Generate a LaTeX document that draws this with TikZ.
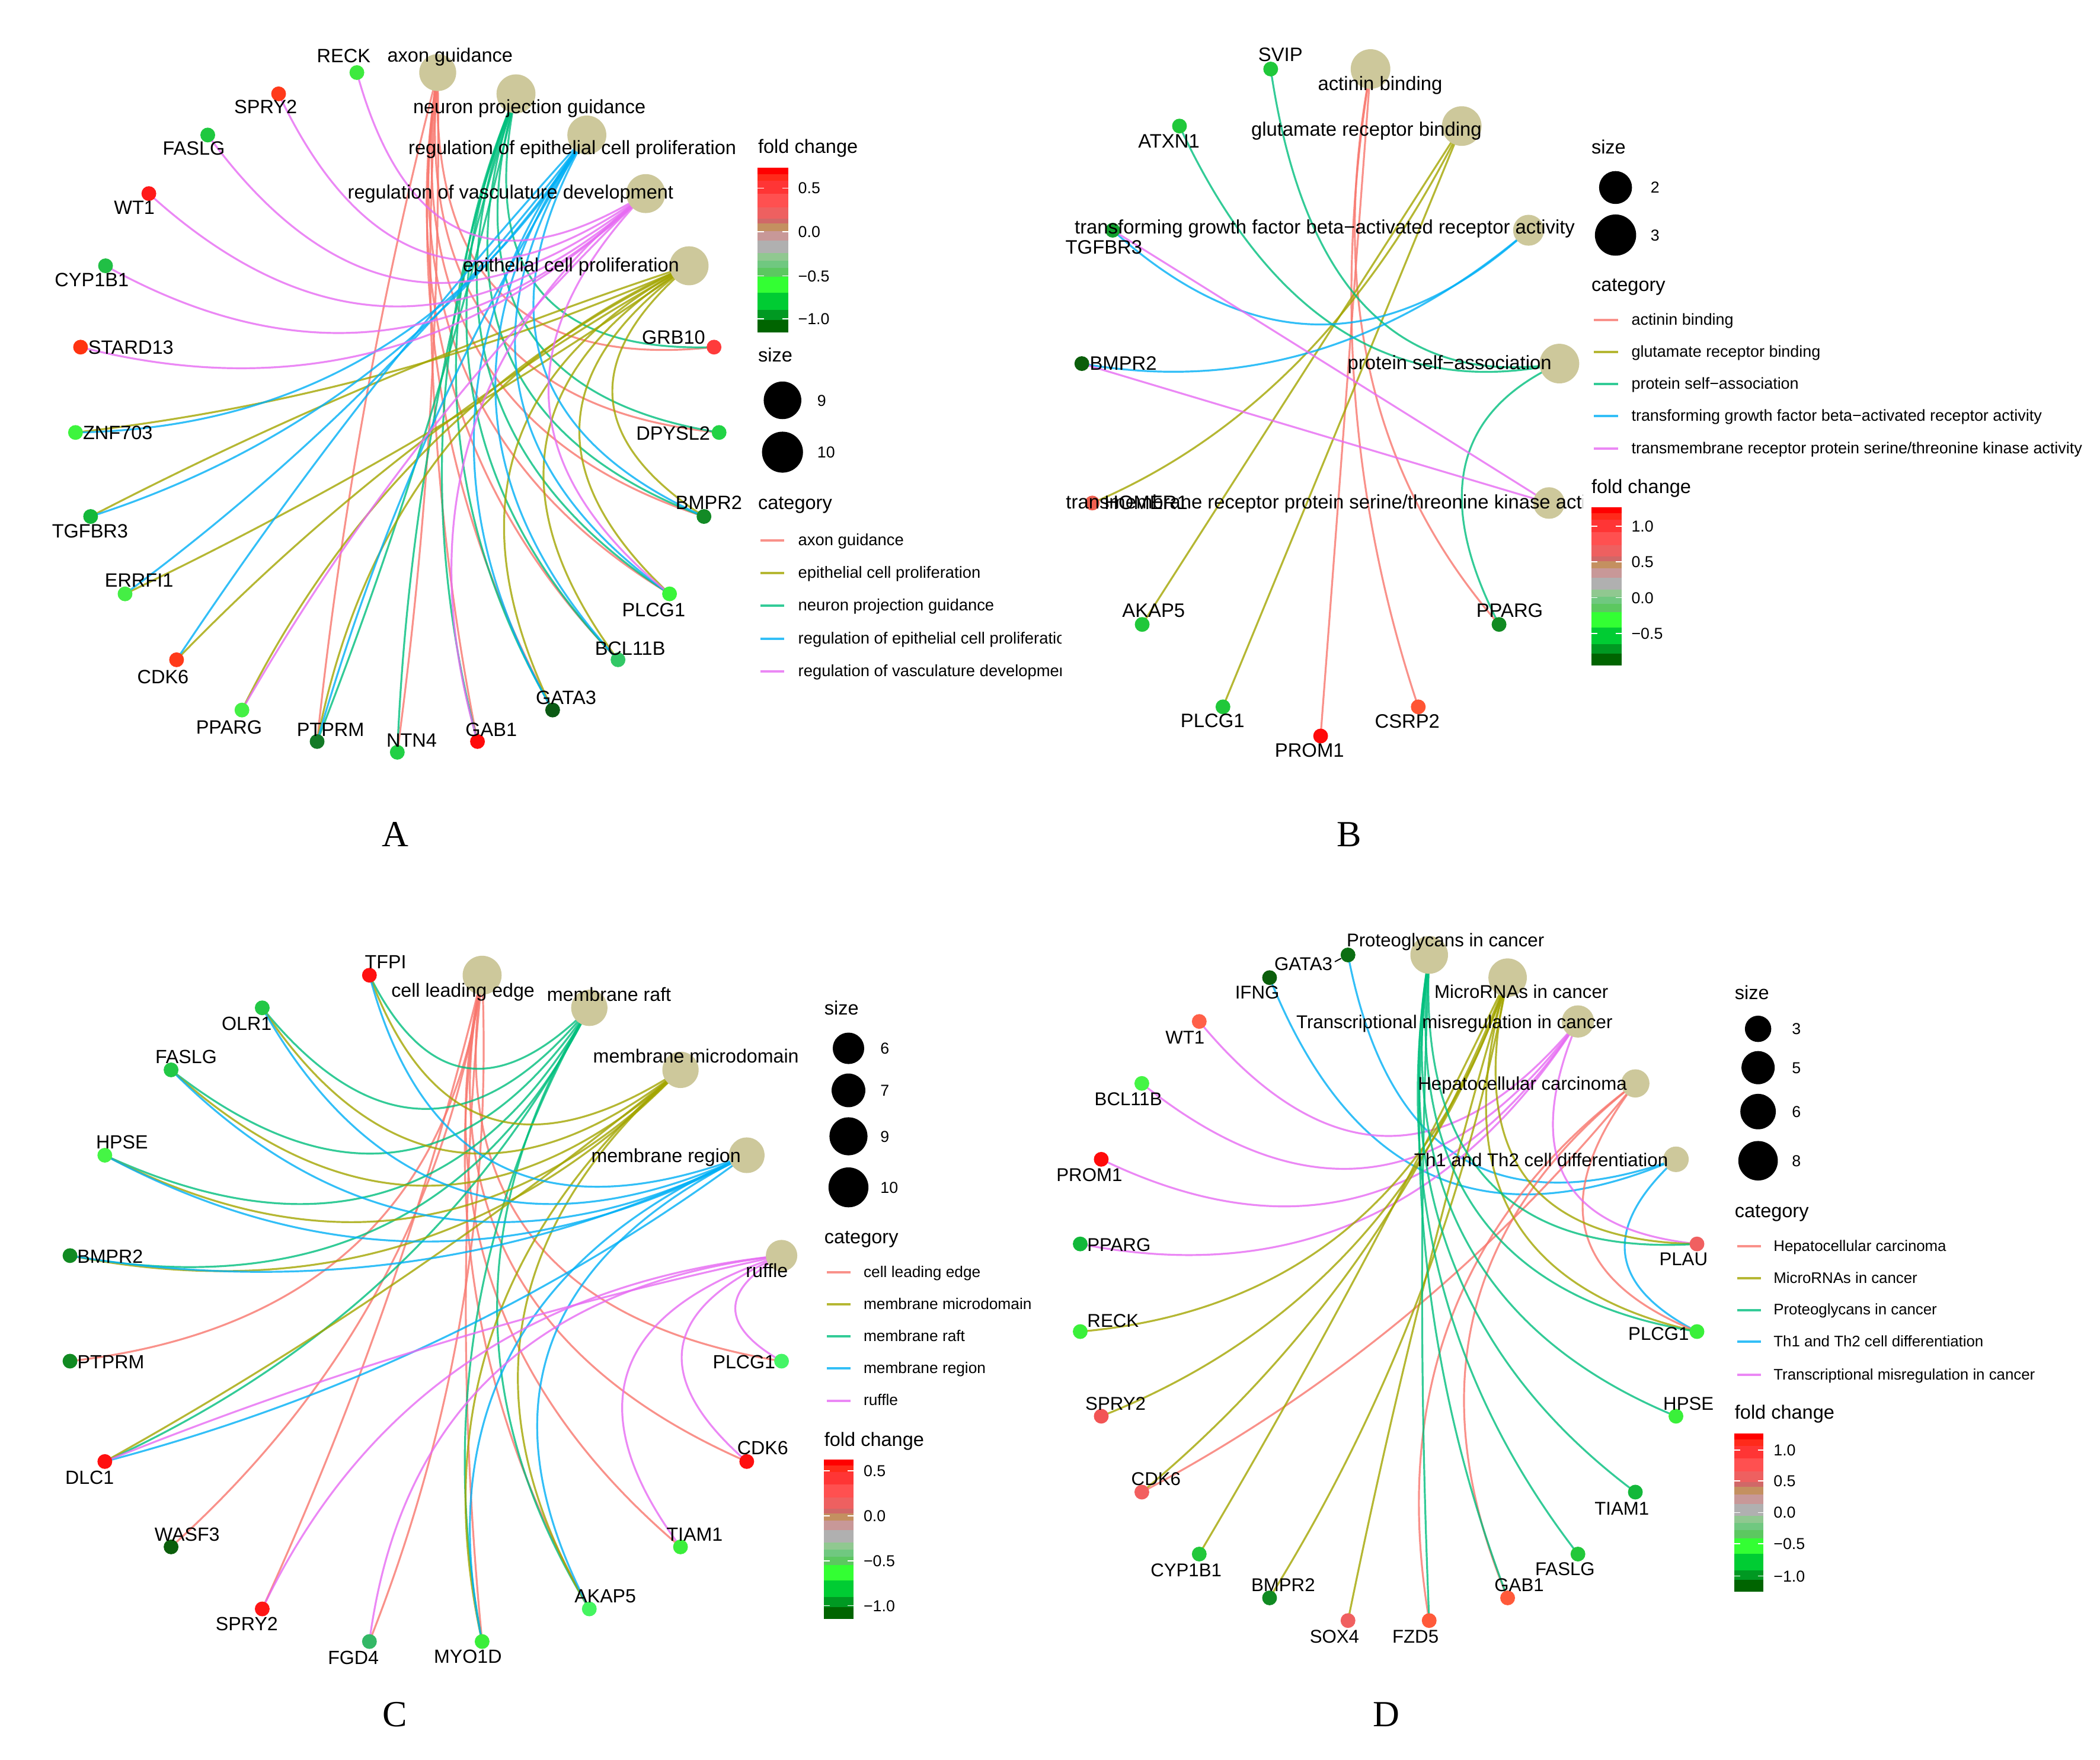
\documentclass[tikz,border=0pt]{standalone}
\usepackage{fontspec}
\setmainfont{Liberation Sans}
\newfontfamily\serifA{Liberation Serif}
\usetikzlibrary{calc}
\pgfdeclarelayer{bg}
\pgfdeclarelayer{fg}
\pgfsetlayers{bg,main,fg}
\definecolor{cRed}{HTML}{F8766D}
\definecolor{cOli}{HTML}{A3A500}
\definecolor{cTea}{HTML}{00BF7D}
\definecolor{cBlu}{HTML}{00B0F6}
\definecolor{cMag}{HTML}{E76BF3}
\definecolor{catfill}{RGB}{205,200,155}
% colour bar bands
\definecolor{cb01}{HTML}{FF0000}
\definecolor{cb02}{HTML}{FF2A1A}
\definecolor{cb03}{HTML}{FF3535}
\definecolor{cb04}{HTML}{FF5050}
\definecolor{cb05}{HTML}{EE6060}
\definecolor{cb06}{HTML}{D06868}
\definecolor{cb07}{HTML}{C49060}
\definecolor{cb08}{HTML}{C89898}
\definecolor{cb09}{HTML}{B0B0B0}
\definecolor{cb10}{HTML}{90C890}
\definecolor{cb11}{HTML}{70C880}
\definecolor{cb12}{HTML}{5CC860}
\definecolor{cb13}{HTML}{33FF33}
\definecolor{cb14}{HTML}{00CC33}
\definecolor{cb15}{HTML}{009922}
\definecolor{cb16}{HTML}{006400}
\def\gfs{10.2}
\def\lfs{8.4}
\tikzset{
  gdot/.style={circle, inner sep=0pt, minimum size=2.75mm, draw=none},
  catdot/.style={circle, inner sep=0pt, fill=catfill, draw=none},
  arcline/.style={line width=1pt, draw opacity=0.8},
  glab/.style={font=\fontsize{\gfs}{12}\selectfont, inner sep=0pt, anchor=base, yshift=-1.29mm},
  clab/.style={font=\fontsize{\gfs}{12}\selectfont, inner sep=0pt, anchor=base, yshift=-1.15mm},
  ltitle/.style={font=\fontsize{10.2}{12}\selectfont, inner sep=0pt, anchor=base west, yshift=-1.1mm},
  litem/.style={font=\fontsize{\lfs}{10}\selectfont, inner sep=0pt, anchor=base west, yshift=-0.9mm},
  ltick/.style={font=\fontsize{8.4}{10}\selectfont, inner sep=0pt, anchor=base west, yshift=-1.05mm},
  keyline/.style={line width=1.2pt, draw opacity=0.8},
  sizedot/.style={circle, fill=black, inner sep=0pt, draw=none},
  plabel/.style={font=\serifA\fontsize{19.5}{22}\selectfont, inner sep=0pt, anchor=base, yshift=-2.28mm},
}
\newcommand\setpanel[4]{\def\pcx{#1}\def\pcy{#2}\def\prx{#3}\def\pry{#4}}
\newcommand\gene[6]{%
  \definecolor{gtmp}{HTML}{#3}%
  \node[gdot, fill=gtmp] (#1) at ({\pcx+\prx*cos(#2)},{\pcy-\pry*sin(#2)}) {};%
  \expandafter\xdef\csname ang-#1\endcsname{#2}%
  \begin{pgfonlayer}{fg}\node[glab] (#1-lab) at (#4,#5) {#6};\end{pgfonlayer}}
\newcommand\catn[3]{%
  \node[catdot, minimum size=#3*0.25mm] (#1) at ({\pcx+\prx*cos(#2)},{\pcy-\pry*sin(#2)}) {};%
  \expandafter\xdef\csname ang-#1\endcsname{#2}}
\newcommand\cat[6]{%
  \catn{#1}{#2}{#3}%
  \begin{pgfonlayer}{fg}\node[clab] (#1-lab) at (#4,#5) {#6};\end{pgfonlayer}}
\newcommand\ed[3]{%
  \pgfmathsetmacro\aA{\csname ang-#2\endcsname}%
  \pgfmathsetmacro\aB{\csname ang-#3\endcsname}%
  \pgfmathsetmacro\dd{mod((\aB)-(\aA)+540,360)-180}%
  \pgfmathsetmacro\DD{abs(\dd)}%
  \pgfmathsetmacro\am{(\aA)+(\dd)/2}%
  \pgfmathsetmacro\rc{2*(1-0.9*sin(\DD/2))-cos(\DD/2)}%
  \coordinate (ctl) at ({\pcx+(\rc)*\prx*cos(\am)},{\pcy-(\rc)*\pry*sin(\am)});%
  \begin{pgfonlayer}{bg}%
  \draw[arcline,#1] (#2.center) .. controls ($(#2.center)!0.6667!(ctl)$) and ($(#3.center)!0.6667!(ctl)$) .. (#3.center);%
  \end{pgfonlayer}}
\newcommand\legline[7]{%
  \draw[keyline,#2] (#3,#6) -- (#4,#6);%
  \node[litem] (#1) at (#5,#6) {#7};}
\newcommand\cbar[4]{%
  \foreach \fa/\cc in {0/cb01,0.039/cb02,0.078/cb03,0.159/cb04,0.240/cb05,0.309/cb06,0.339/cb07,0.384/cb08,0.444/cb09,0.520/cb10,0.565/cb11,0.610/cb12,0.661/cb13,0.760/cb14,0.865/cb15,0.925/cb16}{%
    \fill[\cc] (#1,{#2+(#4-#2)*\fa}) rectangle (#3,#4);}}
\newcommand\cbtick[3]{%
  \draw[white, line width=0.5pt] (#1,#3) -- ({#1+(#2-#1)/5},#3) ({#2-(#2-#1)/5},#3) -- (#2,#3);}
\begin{document}
\begin{tikzpicture}[x=0.25mm, y=-0.25mm]
\begin{pgfonlayer}{bg}
\fill[white] (0,0) rectangle (1563,1310);
\end{pgfonlayer}
\useasboundingbox (0,0) rectangle (1563,1310);

%================ PANEL A ================
\def\gfs{10.2}\def\lfs{8.6}
\setpanel{295.7}{306}{240}{254}
\gene{a-RECK}{97.2}{3EEA3E}{255.8}{41.5}{RECK}
\gene{a-SPRY2}{111.6}{FF3A1A}{197.7}{79.4}{SPRY2}
\gene{a-FASLG}{126}{1FC83F}{144.3}{110.3}{FASLG}
\gene{a-WT1}{140.4}{FF1A1A}{100}{154.4}{WT1}
\gene{a-CYP1B1}{154.8}{21BF45}{68.3}{208}{CYP1B1}
\gene{a-STARD13}{169.2}{FF3311}{97.4}{258.5}{STARD13}
\gene{a-ZNF703}{183.6}{3DF53D}{87.7}{322}{ZNF703}
\gene{a-TGFBR3}{198}{14B83A}{67}{395}{TGFBR3}
\gene{a-ERRFI1}{212.4}{45EE45}{103.5}{432}{ERRFI1}
\gene{a-CDK6}{226.8}{FF3A1A}{121.3}{503.8}{CDK6}
\gene{a-PPARG}{241.2}{45F045}{170.5}{541}{PPARG}
\gene{a-PTPRM}{255.6}{137A26}{246}{543}{PTPRM}
\gene{a-NTN4}{270}{22D045}{306.4}{551}{NTN4}
\gene{a-GAB1}{284.4}{FF0A0A}{365.6}{543}{GAB1}
\gene{a-GATA3}{298.8}{0B5A14}{421.3}{519}{GATA3}
\gene{a-BCL11B}{313.2}{33C866}{469}{482.5}{BCL11B}
\gene{a-PLCG1}{327.6}{3AF53A}{486.5}{454}{PLCG1}
\gene{a-BMPR2}{342}{138A26}{527.6}{374}{BMPR2}
\gene{a-DPYSL2}{356.4}{22D345}{501}{322.6}{DPYSL2}
\gene{a-GRB10}{10.8}{FF3B3B}{501.3}{251}{GRB10}
\cat{a-AG}{82.8}{27.5}{335}{41.5}{axon guidance}
\cat{a-NPG}{68.4}{29}{394}{80}{neuron projection guidance}
\cat{a-REP}{54}{29}{426}{110.3}{regulation of epithelial cell proliferation}
\cat{a-RVD}{39.6}{29}{380}{143.3}{regulation of vasculature development}
\cat{a-ECP}{25.2}{29}{425}{197.7}{epithelial cell proliferation}
\foreach \g in {NTN4,DPYSL2,GRB10,BMPR2,PLCG1,BCL11B,GATA3,PTPRM,GAB1}{\ed{cRed}{a-AG}{a-\g}}
\foreach \g in {NTN4,DPYSL2,GRB10,BMPR2,PLCG1,BCL11B,GATA3,PTPRM,GAB1}{\ed{cTea}{a-NPG}{a-\g}}
\foreach \g in {ZNF703,TGFBR3,ERRFI1,CDK6,PPARG,PTPRM,GATA3,BCL11B,PLCG1,BMPR2}{\ed{cOli}{a-ECP}{a-\g}}
\foreach \g in {ZNF703,TGFBR3,ERRFI1,CDK6,PTPRM,GATA3,BCL11B,PLCG1,BMPR2}{\ed{cBlu}{a-REP}{a-\g}}
\foreach \g in {RECK,SPRY2,FASLG,WT1,CYP1B1,STARD13,GAB1,PLCG1,PPARG}{\ed{cMag}{a-RVD}{a-\g}}
% legend A
\node[ltitle] (a-fc) at (564,109.5) {fold change};
\cbar{564}{124.9}{586.7}{247.3}
\cbtick{564}{586.7}{140}\cbtick{564}{586.7}{172.4}\cbtick{564}{586.7}{205.4}\cbtick{564}{586.7}{237.4}
\node[ltick] (a-t1) at (593.8,140) {0.5};
\node[ltick] (a-t2) at (593.8,172.4) {0.0};
\node[ltick] (a-t3) at (593.8,205.4) {−0.5};
\node[ltick] (a-t4) at (593.8,237.4) {−1.0};
\node[ltitle] (a-sz) at (564,264.7) {size};
\node[sizedot, minimum size=28*0.25mm] (a-s9) at (582.4,298) {};
\node[sizedot, minimum size=30.5*0.25mm] (a-s10) at (582.4,336.6) {};
\node[ltick] (a-s9l) at (608,298) {9};
\node[ltick] (a-s10l) at (608,336.6) {10};
\node[ltitle] (a-ct) at (564,374.8) {category};
\begin{scope}
\clip (560,385) rectangle (790,515);
\legline{a-l1}{cRed}{566}{583.7}{593.8}{402.3}{axon guidance}
\legline{a-l2}{cOli}{566}{583.7}{593.8}{426.6}{epithelial cell proliferation}
\legline{a-l3}{cTea}{566}{583.7}{593.8}{450.8}{neuron projection guidance}
\legline{a-l4}{cBlu}{566}{583.7}{593.8}{475.5}{regulation of epithelial cell proliferation}
\legline{a-l5}{cMag}{566}{583.7}{593.8}{499.8}{regulation of vasculature development}
\end{scope}

%================ PANEL B ================
\def\gfs{10.3}\def\lfs{8.45}
\setpanel{982.9}{296.9}{178.7}{251}
\gene{b-PROM1}{270}{FF0A0A}{974.6}{558.5}{PROM1}
\gene{b-CSRP2}{294}{FF5533}{1047.4}{536.8}{CSRP2}
\gene{b-PPARG}{318}{118A22}{1123.6}{454.2}{PPARG}
\gene{b-SVIP}{102}{20C83A}{953}{40.4}{SVIP}
\gene{b-ATXN1}{126}{20C83A}{870}{105.1}{ATXN1}
\gene{b-TGFBR3}{150}{12A02E}{821.6}{183.7}{TGFBR3}
\gene{b-BMPR2}{174}{0B5E0B}{836}{270.4}{BMPR2}
\gene{b-HOMER1}{198}{F06050}{853}{374}{HOMER1}
\gene{b-AKAP5}{222}{20C83A}{858.6}{454.2}{AKAP5}
\gene{b-PLCG1}{246}{20C83A}{902.5}{536.5}{PLCG1}
\cat{b-AB}{78}{29.5}{1027.2}{62.5}{actinin binding}
\cat{b-GRB}{54}{29.5}{1017}{96.6}{glutamate receptor binding}
\cat{b-TGF}{30}{23}{986}{169.4}{transforming growth factor beta−activated receptor activity}
\cat{b-PSA}{6}{29.5}{1078.9}{270.4}{protein self−association}
\catn{b-TMR}{342}{23.5}
\begin{pgfonlayer}{fg}
\begin{scope}
\clip (780,355) rectangle (1178.2,395);
\node[clab, anchor=base west] (b-TMR-lab) at (793.1,374) {transmembrane receptor protein serine/threonine kinase activity};
\end{scope}
\end{pgfonlayer}
\foreach \g in {PROM1,CSRP2,PPARG}{\ed{cRed}{b-AB}{b-\g}}
\foreach \g in {HOMER1,AKAP5,PLCG1}{\ed{cOli}{b-GRB}{b-\g}}
\foreach \g in {SVIP,ATXN1,PPARG}{\ed{cTea}{b-PSA}{b-\g}}
\foreach \g in {TGFBR3,BMPR2}{\ed{cBlu}{b-TGF}{b-\g}}
\foreach \g in {TGFBR3,BMPR2}{\ed{cMag}{b-TMR}{b-\g}}
% legend B
\node[ltitle] (b-sz) at (1184.2,110) {size};
\node[sizedot, minimum size=24.5*0.25mm] (b-s2) at (1202.4,139.6) {};
\node[sizedot, minimum size=30.7*0.25mm] (b-s3) at (1202.4,175) {};
\node[ltick] (b-s2l) at (1228.3,139.6) {2};
\node[ltick] (b-s3l) at (1228.3,175) {3};
\node[ltitle] (b-ct) at (1184.2,212.3) {category};
\legline{b-l1}{cRed}{1186.3}{1204.2}{1214}{238.2}{actinin binding}
\legline{b-l2}{cOli}{1186.3}{1204.2}{1214}{262}{glutamate receptor binding}
\legline{b-l3}{cTea}{1186.3}{1204.2}{1214}{285.8}{protein self−association}
\legline{b-l4}{cBlu}{1186.3}{1204.2}{1214}{309.8}{transforming growth factor beta−activated receptor activity}
\legline{b-l5}{cMag}{1186.3}{1204.2}{1214}{333.9}{transmembrane receptor protein serine/threonine kinase activity}
\node[ltitle] (b-fc) at (1184.2,363) {fold change};
\cbar{1184.4}{377.6}{1206.9}{495.6}
\cbtick{1184.4}{1206.9}{391.8}\cbtick{1184.4}{1206.9}{418.1}\cbtick{1184.4}{1206.9}{444.9}\cbtick{1184.4}{1206.9}{471.6}
\node[ltick] (b-t1) at (1214,391.8) {1.0};
\node[ltick] (b-t2) at (1214,418.1) {0.5};
\node[ltick] (b-t3) at (1214,444.9) {0.0};
\node[ltick] (b-t4) at (1214,471.6) {−0.5};

%================ PANEL C ================
\def\gfs{10.1}\def\lfs{8.25}
\setpanel{316.9}{974}{268.1}{251.1}
\gene{c-TFPI}{99}{FF1010}{287}{715.7}{TFPI}
\gene{c-OLR1}{117}{22C845}{183.6}{761.6}{OLR1}
\gene{c-FASLG}{135}{22C845}{138.5}{786.6}{FASLG}
\gene{c-HPSE}{153}{45F545}{90.8}{849.8}{HPSE}
\gene{c-BMPR2}{171}{118A22}{82}{935}{BMPR2}
\gene{c-PTPRM}{189}{118A22}{82.5}{1013.6}{PTPRM}
\gene{c-DLC1}{207}{FF1010}{66.7}{1099.7}{DLC1}
\gene{c-WASF3}{225}{0B5E0B}{139.3}{1141.9}{WASF3}
\gene{c-SPRY2}{243}{FF1515}{183.7}{1208.8}{SPRY2}
\gene{c-FGD4}{261}{33B866}{263}{1233.7}{FGD4}
\gene{c-MYO1D}{279}{3AEE3A}{348.2}{1233}{MYO1D}
\gene{c-AKAP5}{297}{45F560}{450.5}{1187.9}{AKAP5}
\gene{c-TIAM1}{315}{3AEE3A}{517}{1141.9}{TIAM1}
\gene{c-CDK6}{333}{FF1010}{567.7}{1077.6}{CDK6}
\gene{c-PLCG1}{351}{45F566}{553.8}{1013.6}{PLCG1}
\cat{c-CLE}{81}{29}{344.6}{737.8}{cell leading edge}
\cat{c-MR}{63}{27}{453.3}{740.7}{membrane raft}
\cat{c-MM}{45}{27}{518}{786.6}{membrane microdomain}
\cat{c-MRG}{27}{26.5}{495.7}{860.8}{membrane region}
\cat{c-RUF}{9}{23.4}{570.8}{946.1}{ruffle}
\foreach \g in {PTPRM,WASF3,SPRY2,FGD4,MYO1D,AKAP5,TIAM1,CDK6,PLCG1}{\ed{cRed}{c-CLE}{c-\g}}
\foreach \g in {TFPI,OLR1,FASLG,HPSE,BMPR2,DLC1,MYO1D,AKAP5}{\ed{cTea}{c-MR}{c-\g}}
\foreach \g in {TFPI,OLR1,FASLG,HPSE,BMPR2,DLC1,MYO1D,AKAP5}{\ed{cOli}{c-MM}{c-\g}}
\foreach \g in {TFPI,OLR1,FASLG,HPSE,BMPR2,DLC1,MYO1D,AKAP5}{\ed{cBlu}{c-MRG}{c-\g}}
\foreach \g in {DLC1,SPRY2,FGD4,TIAM1,CDK6,PLCG1}{\ed{cMag}{c-RUF}{c-\g}}
% legend C
\node[ltitle] (c-sz) at (613.3,750.9) {size};
\node[sizedot, minimum size=23.4*0.25mm] (c-s6) at (631.5,780.4) {};
\node[sizedot, minimum size=25.1*0.25mm] (c-s7) at (631.5,811.7) {};
\node[sizedot, minimum size=28.3*0.25mm] (c-s9) at (631.5,845.9) {};
\node[sizedot, minimum size=29.7*0.25mm] (c-s10) at (631.5,883.9) {};
\node[ltick] (c-s6l) at (655,780.4) {6};
\node[ltick] (c-s7l) at (655,811.7) {7};
\node[ltick] (c-s9l) at (655,845.9) {9};
\node[ltick] (c-s10l) at (655,883.9) {10};
\node[ltitle] (c-ct) at (613.3,921.5) {category};
\legline{c-l1}{cRed}{615.5}{633.2}{642.5}{947.3}{cell leading edge}
\legline{c-l2}{cOli}{615.5}{633.2}{642.5}{971.1}{membrane microdomain}
\legline{c-l3}{cTea}{615.5}{633.2}{642.5}{994.9}{membrane raft}
\legline{c-l4}{cBlu}{615.5}{633.2}{642.5}{1018.6}{membrane region}
\legline{c-l5}{cMag}{615.5}{633.2}{642.5}{1042.7}{ruffle}
\node[ltitle] (c-fc) at (613.3,1072.1) {fold change};
\cbar{613.3}{1086.4}{635.4}{1205.1}
\cbtick{613.3}{635.4}{1094.9}\cbtick{613.3}{635.4}{1128.5}\cbtick{613.3}{635.4}{1162.1}\cbtick{613.3}{635.4}{1195.3}
\node[ltick] (c-t1) at (642.5,1094.9) {0.5};
\node[ltick] (c-t2) at (642.5,1128.5) {0.0};
\node[ltick] (c-t3) at (642.5,1162.1) {−0.5};
\node[ltick] (c-t4) at (642.5,1195.3) {−1.0};

%================ PANEL D ================
\def\gfs{9.8}\def\lfs{8.1}
\setpanel{1033.5}{958.65}{231.5}{249.9}
\gene{d-GATA3}{97.5}{0B6E12}{970.1}{717}{GATA3}
\gene{d-IFNG}{112.5}{0B5E0B}{935.7}{738.6}{IFNG}
\gene{d-WT1}{127.5}{FF6048}{882}{771.9}{WT1}
\gene{d-BCL11B}{142.5}{45F545}{839.8}{817.6}{BCL11B}
\gene{d-PROM1}{157.5}{FF0A0A}{810.8}{874.3}{PROM1}
\gene{d-PPARG}{172.5}{12B83A}{832.8}{926.3}{PPARG}
\gene{d-RECK}{187.5}{3AF03A}{828.4}{982.7}{RECK}
\gene{d-SPRY2}{202.5}{F25555}{830.3}{1044.5}{SPRY2}
\gene{d-CDK6}{217.5}{F25F5F}{860.4}{1100.5}{CDK6}
\gene{d-CYP1B1}{232.5}{22C83A}{882.8}{1168.4}{CYP1B1}
\gene{d-BMPR2}{247.5}{118A22}{955}{1179.5}{BMPR2}
\gene{d-SOX4}{262.5}{F06060}{993.2}{1217.9}{SOX4}
\gene{d-FZD5}{277.5}{FF5A3A}{1053.5}{1217.9}{FZD5}
\gene{d-GAB1}{292.5}{FF5A3A}{1130.7}{1179.5}{GAB1}
\gene{d-FASLG}{307.5}{22C83A}{1164.8}{1167.7}{FASLG}
\gene{d-TIAM1}{322.5}{14B83A}{1207.1}{1122.8}{TIAM1}
\gene{d-HPSE}{337.5}{3AF03A}{1256.7}{1044.5}{HPSE}
\gene{d-PLCG1}{352.5}{3AF03A}{1234.5}{992.4}{PLCG1}
\gene{d-PLAU}{7.5}{F06060}{1253}{937.1}{PLAU}
\cat{d-PG}{82.5}{28}{1075.8}{700.1}{Proteoglycans in cancer}
\cat{d-MIR}{67.5}{28.6}{1132.3}{738.6}{MicroRNAs in cancer}
\cat{d-TMC}{52.5}{24}{1082.5}{761.2}{Transcriptional misregulation in cancer}
\cat{d-HCC}{37.5}{21}{1133.1}{806.8}{Hepatocellular carcinoma}
\cat{d-TH}{22.5}{19}{1147}{863.6}{Th1 and Th2 cell differentiation}
\draw[black, line width=0.6pt] ($(d-GATA3-lab.east)+(1.5,-1.5)$) -- (d-GATA3);
\foreach \g in {IFNG,GATA3,PLCG1}{\ed{cBlu}{d-TH}{d-\g}}
\foreach \g in {CDK6,GAB1,FZD5,PLCG1}{\ed{cRed}{d-HCC}{d-\g}}
\foreach \g in {WT1,BCL11B,PROM1,PPARG,PLAU}{\ed{cMag}{d-TMC}{d-\g}}
\foreach \g in {RECK,SPRY2,CYP1B1,BMPR2,SOX4,PLAU,PLCG1,CDK6}{\ed{cOli}{d-MIR}{d-\g}}
\foreach \g in {HPSE,TIAM1,FASLG,GAB1,FZD5,PLCG1,PLAU}{\ed{cTea}{d-PG}{d-\g}}
% legend D
\node[ltitle] (d-sz) at (1290.9,739.5) {size};
\node[sizedot, minimum size=19.6*0.25mm] (d-s3) at (1308.5,765.9) {};
\node[sizedot, minimum size=24.7*0.25mm] (d-s5) at (1308.5,794.8) {};
\node[sizedot, minimum size=26.4*0.25mm] (d-s6) at (1308.5,827.5) {};
\node[sizedot, minimum size=29.4*0.25mm] (d-s8) at (1308.5,864.1) {};
\node[ltick] (d-s3l) at (1333.5,765.9) {3};
\node[ltick] (d-s5l) at (1333.5,794.8) {5};
\node[ltick] (d-s6l) at (1333.5,827.5) {6};
\node[ltick] (d-s8l) at (1333.5,864.1) {8};
\node[ltitle] (d-ct) at (1290.9,901.8) {category};
\legline{d-l1}{cRed}{1292.8}{1310.5}{1319.8}{927.9}{Hepatocellular carcinoma}
\legline{d-l2}{cOli}{1292.8}{1310.5}{1319.8}{951.6}{MicroRNAs in cancer}
\legline{d-l3}{cTea}{1292.8}{1310.5}{1319.8}{975.2}{Proteoglycans in cancer}
\legline{d-l4}{cBlu}{1292.8}{1310.5}{1319.8}{998.9}{Th1 and Th2 cell differentiation}
\legline{d-l5}{cMag}{1292.8}{1310.5}{1319.8}{1023.4}{Transcriptional misregulation in cancer}
\node[ltitle] (d-fc) at (1290.9,1052) {fold change};
\cbar{1290.9}{1067}{1312.6}{1185.1}
\cbtick{1290.9}{1312.6}{1079.4}\cbtick{1290.9}{1312.6}{1102.4}\cbtick{1290.9}{1312.6}{1126}\cbtick{1290.9}{1312.6}{1149.3}\cbtick{1290.9}{1312.6}{1173.3}
\node[ltick] (d-t1) at (1319.8,1079.4) {1.0};
\node[ltick] (d-t2) at (1319.8,1102.4) {0.5};
\node[ltick] (d-t3) at (1319.8,1126) {0.0};
\node[ltick] (d-t4) at (1319.8,1149.3) {−0.5};
\node[ltick] (d-t5) at (1319.8,1173.3) {−1.0};

%================ panel letters ================
\node[plabel] (labA) at (294,621) {A};
\node[plabel] (labB) at (1004,621) {B};
\node[plabel] (labC) at (294,1276) {C};
\node[plabel] (labD) at (1032,1276) {D};
\end{tikzpicture}
\end{document}
